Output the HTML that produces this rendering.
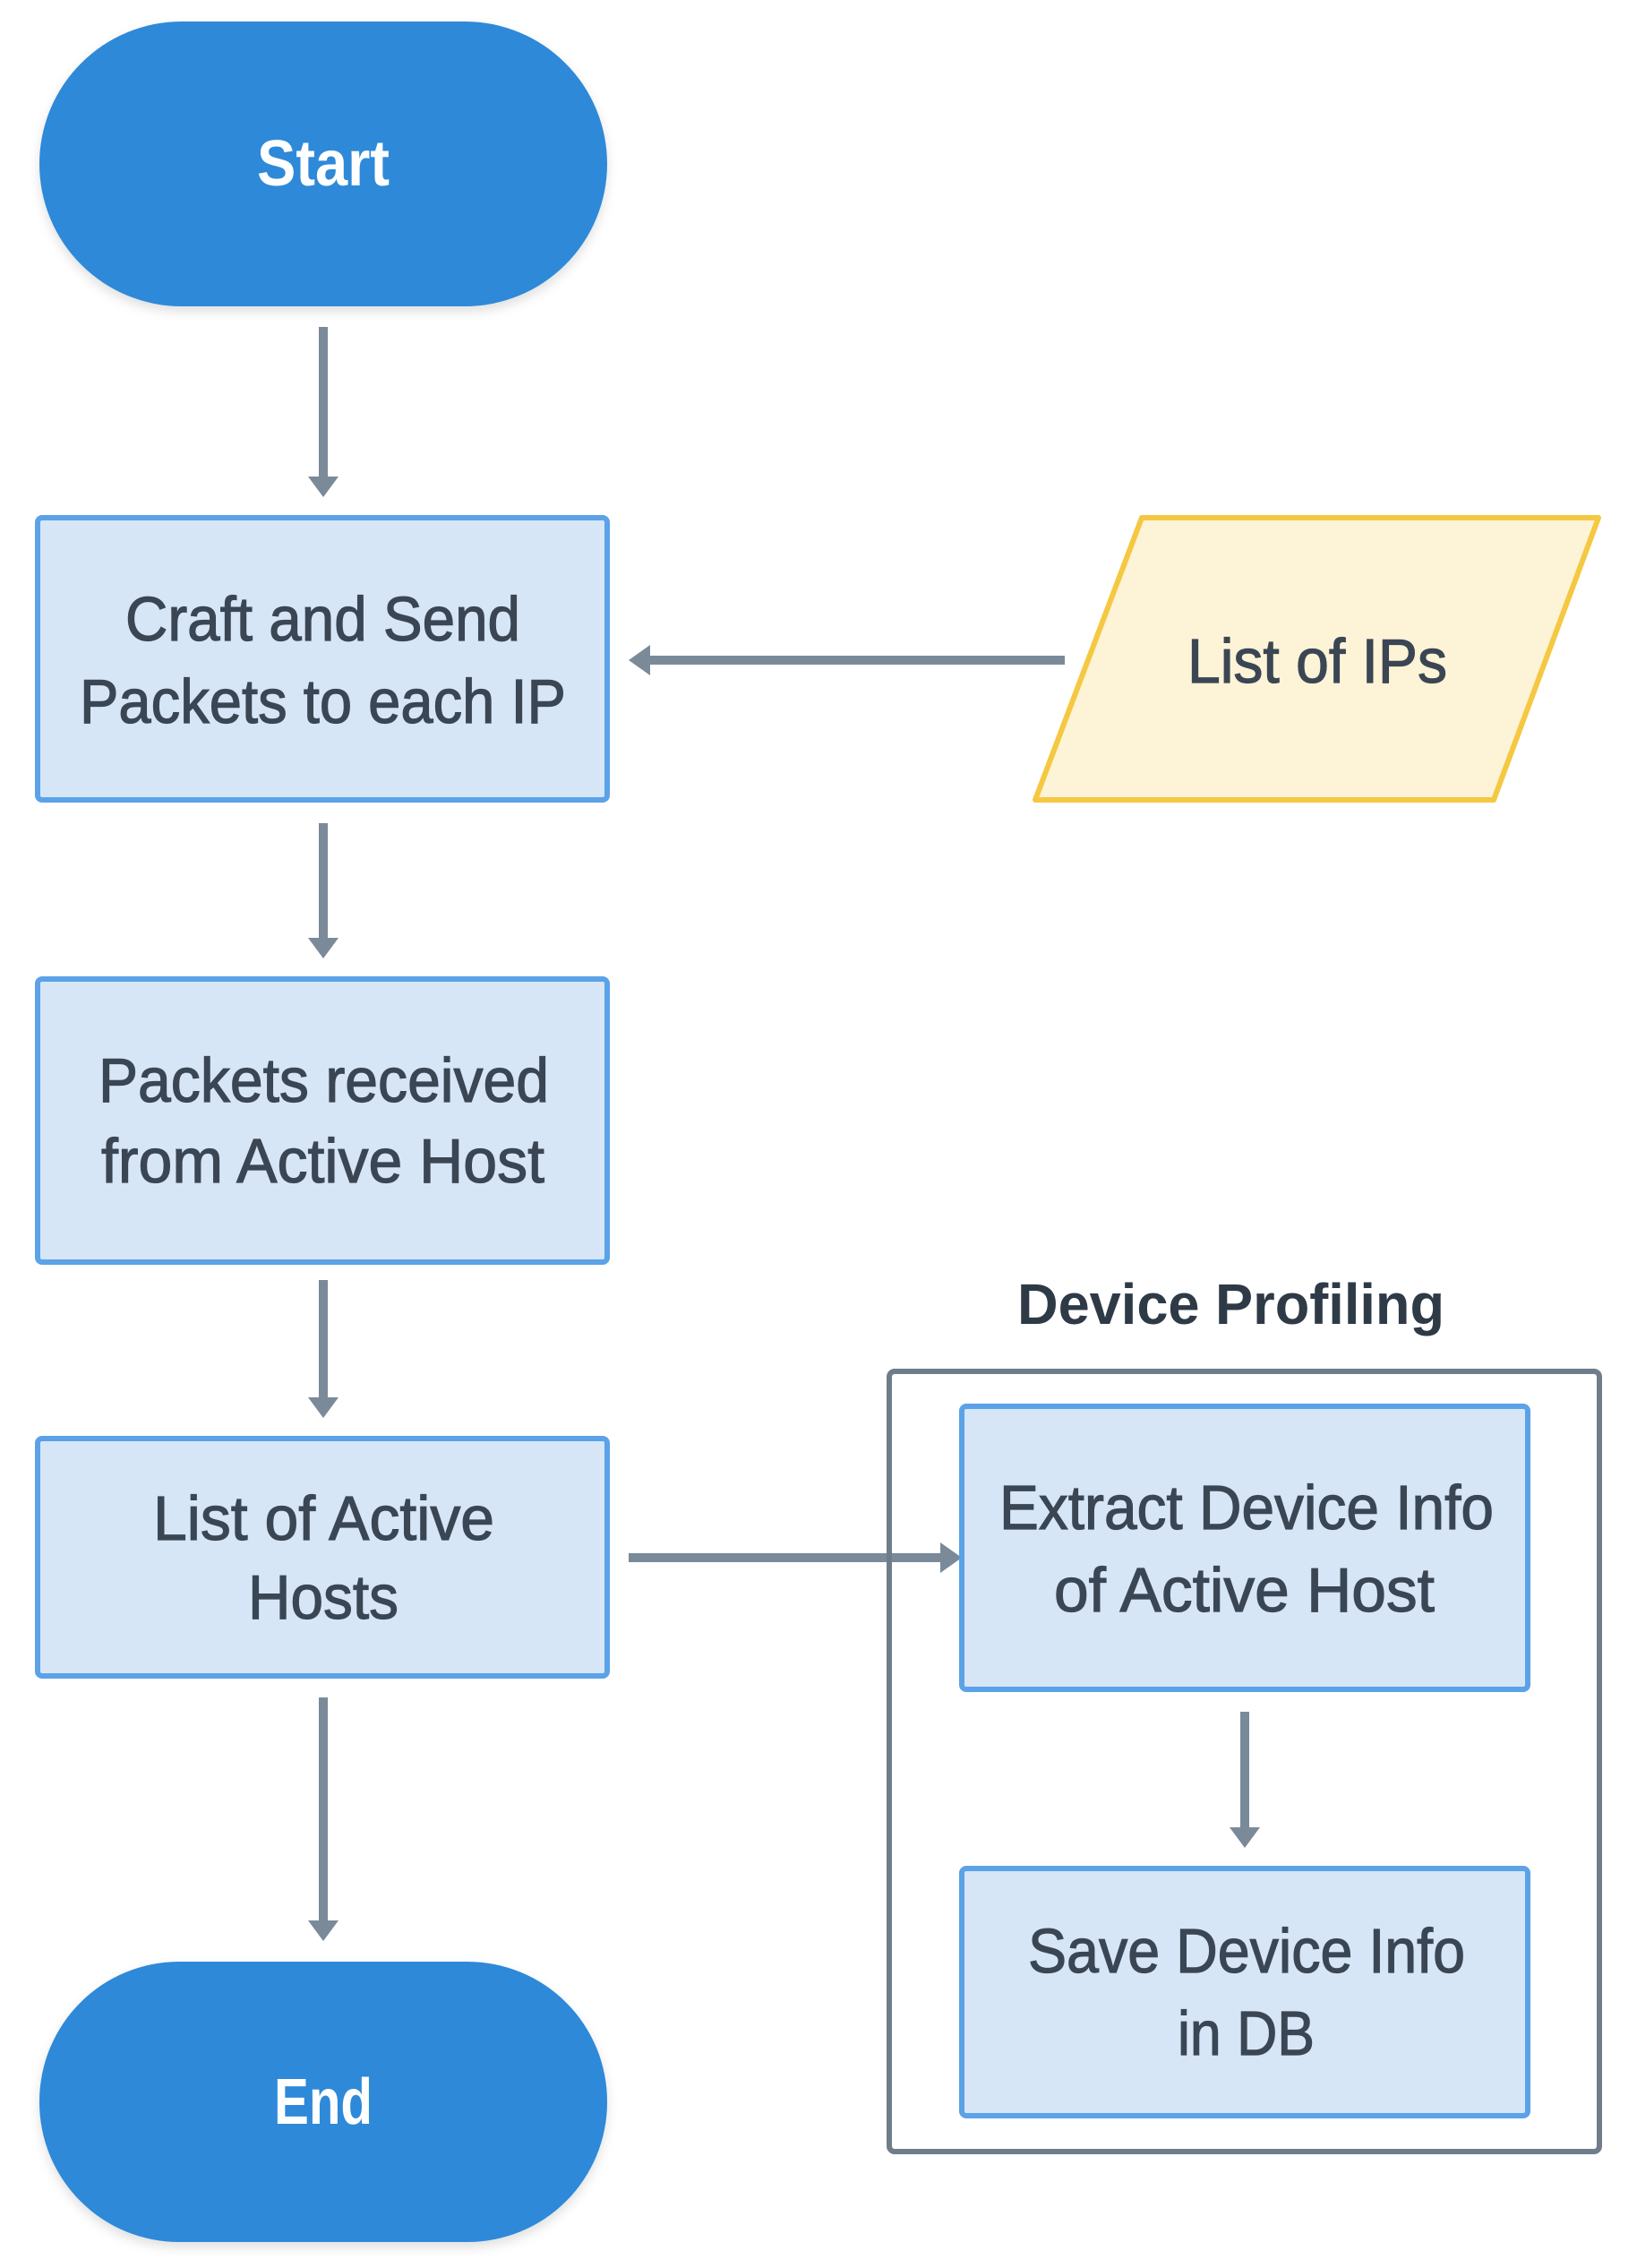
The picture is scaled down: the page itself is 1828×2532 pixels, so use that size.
<!DOCTYPE html>
<html><head><style>
html,body{margin:0;padding:0;background:#fff;}
svg{display:block;}
text{font-family:"Liberation Sans Narrow","Liberation Sans",sans-serif;fill:#3b4654;text-anchor:start;}
.t text{stroke:#3b4654;stroke-width:1.2;}
</style></head><body>
<svg width="1828" height="2532" viewBox="0 0 1828 2532" xmlns="http://www.w3.org/2000/svg">
<defs>
<filter id="sh" x="-10%" y="-10%" width="120%" height="130%"><feDropShadow dx="0" dy="6" stdDeviation="6" flood-color="#000" flood-opacity="0.12"/></filter>
</defs>
<!-- Start -->
<rect x="44" y="24" width="634" height="318" rx="159" fill="#2e89d9" filter="url(#sh)"/>
<text x="287" y="207" font-size="72" font-weight="bold" style="fill:#fff" textLength="148" lengthAdjust="spacingAndGlyphs">Start</text>
<!-- arrows -->
<g stroke="#7a8a99" stroke-width="10" fill="#7a8a99">
<line x1="361" y1="365" x2="361" y2="540"/>
<line x1="361" y1="919" x2="361" y2="1055"/>
<line x1="361" y1="1429" x2="361" y2="1568"/>
<line x1="361" y1="1895" x2="361" y2="2152"/>
<line x1="1390" y1="1911" x2="1390" y2="2048"/>
<line x1="1189" y1="737" x2="718" y2="737"/>
<line x1="702" y1="1739" x2="1058" y2="1739"/>
</g>
<g fill="#7a8a99">
<polygon points="344,532 378,532 361,555"/>
<polygon points="344,1047 378,1047 361,1070"/>
<polygon points="344,1560 378,1560 361,1583"/>
<polygon points="344,2144 378,2144 361,2167"/>
<polygon points="1373,2040 1407,2040 1390,2063"/>
<polygon points="726,720 726,754 702,737"/>
<polygon points="1050,1722 1050,1756 1074,1739"/>
</g>
<!-- boxes -->
<g fill="#d6e6f6" stroke="#5ba2e8" stroke-width="6">
<rect x="42" y="578" width="636" height="315" rx="5"/>
<rect x="42" y="1093" width="636" height="316" rx="5"/>
<rect x="42" y="1606" width="636" height="265" rx="5"/>
<rect x="1074" y="1570" width="632" height="316" rx="5"/>
<rect x="1074" y="2086" width="632" height="276" rx="5"/>
</g>
<!-- parallelogram -->
<polygon points="1275,578 1785,578 1668,893 1156,893" fill="#fdf3d6" stroke="#f5c842" stroke-width="6" stroke-linejoin="round"/>
<!-- group -->
<rect x="993" y="1531" width="793" height="871" rx="6" fill="none" stroke="#6f7d8b" stroke-width="6"/>
<text x="1136" y="1478" font-size="64" font-weight="bold" style="fill:#2f3a47" textLength="477" lengthAdjust="spacingAndGlyphs">Device Profiling</text>
<!-- texts -->
<g font-size="70" class="t">
<text x="140" y="715" textLength="441" lengthAdjust="spacingAndGlyphs">Craft and Send</text>
<text x="89" y="807" textLength="543" lengthAdjust="spacingAndGlyphs">Packets to each IP</text>
<text x="1326" y="762" textLength="290" lengthAdjust="spacingAndGlyphs">List of IPs</text>
<text x="110" y="1230" textLength="503" lengthAdjust="spacingAndGlyphs">Packets received</text>
<text x="113" y="1320" textLength="495" lengthAdjust="spacingAndGlyphs">from Active Host</text>
<text x="171" y="1719" textLength="381" lengthAdjust="spacingAndGlyphs">List of Active</text>
<text x="277" y="1807" textLength="168" lengthAdjust="spacingAndGlyphs">Hosts</text>
<text x="1116" y="1707" textLength="552" lengthAdjust="spacingAndGlyphs">Extract Device Info</text>
<text x="1177" y="1799" textLength="425" lengthAdjust="spacingAndGlyphs">of  Active Host</text>
<text x="1148" y="2202" textLength="488" lengthAdjust="spacingAndGlyphs">Save Device Info</text>
<text x="1315" y="2294" textLength="153" lengthAdjust="spacingAndGlyphs">in DB</text>
</g>
<!-- End -->
<rect x="44" y="2190" width="634" height="313" rx="156" fill="#2e89d9" filter="url(#sh)"/>
<text x="306" y="2371" font-size="72" font-weight="bold" style="fill:#fff" textLength="110" lengthAdjust="spacingAndGlyphs">End</text>
</svg>
</body></html>
